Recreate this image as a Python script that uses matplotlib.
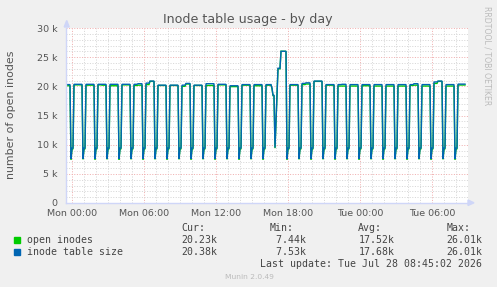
import numpy as np
import matplotlib.pyplot as plt
from matplotlib.patches import Rectangle, Polygon

W, H = 497, 287

# time axis: hours relative to Mon 00:00, one sample every 5 minutes
t_start, t_end = -0.5, 32.75          # Sun 23:30 .. Tue 08:45

# hourly plateau levels (k) for hours Sun 23 .. Tue 08 (h = -1 .. 32)
# (first part of the hour, second part of the hour)
size_early = [20.30, 20.35, 20.35, 20.35, 20.35, 20.35, 20.35, 20.55, 20.20, 20.20,
              20.20, 20.20, 20.45, 20.35, 20.10, 20.30, 20.30, 20.30, 26.01, 20.30,
              20.50, 20.90, 20.30, 20.30, 20.30, 20.30, 20.30, 20.30, 20.30, 20.30,
              20.30, 20.75, 20.30, 20.38]
size_late = [20.30, 20.35, 20.35, 20.35, 20.35, 20.35, 20.45, 20.90, 20.20, 20.20,
             20.50, 20.20, 20.45, 20.35, 20.10, 20.30, 20.30, 20.30, 26.01, 20.30,
             20.60, 20.90, 20.30, 20.35, 20.30, 20.30, 20.30, 20.30, 20.30, 20.45,
             20.30, 20.90, 20.30, 20.38]
open_early = [20.10, 20.25, 20.20, 20.25, 20.10, 20.25, 20.15, 20.30, 20.15, 20.15,
              20.00, 20.15, 20.15, 20.25, 19.95, 20.20, 20.10, 20.20, 26.01, 20.20,
              20.30, 20.85, 20.20, 20.05, 20.05, 20.10, 20.05, 20.05, 20.05, 20.15,
              20.05, 20.50, 20.05, 20.23]
open_late = [20.10, 20.25, 20.20, 20.20, 20.10, 20.25, 20.20, 20.85, 20.15, 20.15,
             20.40, 20.15, 20.15, 20.25, 19.95, 20.20, 20.10, 20.20, 26.01, 20.20,
             20.40, 20.85, 20.20, 20.05, 20.05, 20.10, 20.05, 20.05, 20.05, 20.20,
             20.05, 20.85, 20.05, 20.23]

# hourly dip just before each full hour (h = 0 .. 32): low point at hh:55, then level at :00/:05
size_dip_low = [7.55, 7.60, 7.55, 7.60, 7.55, 7.60, 7.55, 7.60, 7.55, 7.60, 7.55,
                7.60, 7.55, 7.60, 7.55, 7.60, 7.55, 7.60, 7.53, 7.60, 7.55, 7.60,
                7.55, 7.60, 7.55, 7.60, 7.55, 7.60, 7.55, 7.60, 7.55, 7.60, 7.55]
open_dip_low = [7.45, 7.50, 7.45, 7.50, 7.44, 7.50, 7.45, 7.50, 7.45, 7.50, 7.45,
                7.50, 7.45, 7.50, 7.45, 7.50, 7.45, 7.50, 7.45, 7.50, 7.45, 7.50,
                7.45, 7.50, 7.45, 7.50, 7.45, 7.50, 7.45, 7.50, 7.45, 7.50, 7.45]
size_dip_step = 9.40
open_dip_step = 9.25

# the spike around Mon 17:00 (time -> size, open)
event_times = ["16:40", "16:45", "16:50", "16:55", "17:00", "17:05", "17:10", "17:15", "17:20"]
event_size = [19.70, 18.50, 18.50, 9.50, 14.00, 18.60, 23.10, 23.10, 23.10]
event_open = [19.60, 18.40, 18.40, 9.40, 13.90, 18.50, 23.00, 23.00, 23.00]

x_labels = ["Mon 00:00", "Mon 06:00", "Mon 12:00", "Mon 18:00", "Tue 00:00", "Tue 06:00"]
x_label_pos = [0, 6, 12, 18, 24, 30]
y_ticks = [0, 5, 10, 15, 20, 25, 30]

legend_rows = [("open inodes", "#00CC00", ["20.23k", " 7.44k", "17.52k", "26.01k"]),
               ("inode table size", "#0066B3", ["20.38k", " 7.53k", "17.68k", "26.01k"])]


def build_series(early, late, dip_low, dip_step, ev_vals):
    events = {}
    for s, v in zip(event_times, ev_vals):
        hh, mm = s.split(":")
        events[(int(hh), int(mm))] = v
    times, vals = [], []
    n = int(round((t_end - t_start) * 12)) + 1
    for k in range(n):
        total = int(round(t_start * 60)) + 5 * k
        h, m = divmod(total, 60)
        if (h, m) in events:
            v = events[(h, m)]
        elif m == 55 and 0 <= h + 1 < len(dip_low):
            v = dip_low[h + 1]
        elif m in (0, 5) and h >= 0:
            v = dip_step
        else:
            v = early[h + 1] if m < 30 else late[h + 1]
        times.append(total / 60)
        vals.append(v)
    return np.array(times), np.array(vals)


t_open, v_open = build_series(open_early, open_late, open_dip_low, open_dip_step, event_open)
t_size, v_size = build_series(size_early, size_late, size_dip_low, size_dip_step, event_size)


def fx(x):
    return x / W


def fy(y):
    return 1 - y / H


fig = plt.figure(figsize=(W / 100, H / 100), dpi=100, facecolor="#F0F0F0")
ax = fig.add_axes([fx(66), fy(203), (468 - 66) / W, (203 - 28) / H])
ax.set_facecolor("white")

ax.set_xlim(-0.5, 33.0)
ax.set_ylim(0, 30)

ax.set_xticks(x_label_pos)
ax.set_xticklabels(x_labels)
ax.set_xticks(range(0, 33), minor=True)
ax.set_yticks(y_ticks)
ax.set_yticklabels([f"{v} k" if v else "0" for v in y_ticks])
ax.set_yticks(range(0, 31), minor=True)

ax.tick_params(which="both", length=0, labelsize=6.8, labelcolor="#555555")
ax.tick_params(axis="x", pad=4)
ax.tick_params(axis="y", pad=6)

ax.grid(which="minor", color="#D6D6D6", linewidth=0.72, linestyle=(0, (1, 1.6)))
ax.grid(which="major", color="#F0B0B0", linewidth=0.72, linestyle=(0, (1, 1.6)))
ax.set_axisbelow(True)

for side in ["top", "right"]:
    ax.spines[side].set_visible(False)
for side in ["left", "bottom"]:
    ax.spines[side].set_color("#CFD6F8")
    ax.spines[side].set_linewidth(1.0)

ax.plot(t_open, v_open, color="#00CC00", linewidth=1.0, solid_joinstyle="miter")
ax.plot(t_size, v_size, color="#0066B3", linewidth=1.0, solid_joinstyle="miter")

# axis arrows
fig.patches.append(Polygon([(fx(64.2), fy(27)), (fx(69.2), fy(27)), (fx(66.7), fy(20.5))],
                           closed=True, transform=fig.transFigure, color="#CFD6F8"))
fig.patches.append(Polygon([(fx(468), fy(200)), (fx(468), fy(205.5)), (fx(474), fy(202.8))],
                           closed=True, transform=fig.transFigure, color="#CFD6F8"))

fig.text(fx(248), fy(23), "Inode table usage - by day", ha="center", va="baseline",
         fontsize=9.1, color="#555555")
fig.text(fx(11), fy(115), "number of open inodes", rotation=90, ha="center", va="center",
         fontsize=7.9, color="#555555")
fig.text(fx(487), fy(56), "RRDTOOL / TOBI OETIKER", rotation=270, ha="center", va="center",
         fontsize=5.6, color="#BBBBBB")

mono = "DejaVu Sans Mono"
cols = [181.7, 270.0, 358.3, 446.7]
for x, head in zip(cols, ["Cur:", "Min:", "Avg:", "Max:"]):
    fig.text(fx(x), fy(231), head, family=mono, fontsize=7.1, color="#444444", va="baseline")
for i, (name, color, stats) in enumerate(legend_rows):
    base = 243 + 12.3 * i
    fig.patches.append(Rectangle((fx(14), fy(base - 0.5)), 5.5 / W, 5.5 / H,
                                 transform=fig.transFigure, color=color))
    fig.text(fx(26.7), fy(base), name, family=mono, fontsize=7.1, color="#444444", va="baseline")
    for x, s in zip(cols, stats):
        fig.text(fx(x), fy(base), s, family=mono, fontsize=7.1, color="#444444", va="baseline")

fig.text(fx(482.5), fy(267), "Last update: Tue Jul 28 08:45:02 2026", family=mono,
         fontsize=7.1, color="#444444", ha="right", va="baseline")
fig.text(fx(249), fy(279), "Munin 2.0.49", ha="center", va="baseline", fontsize=5.4,
         color="#BBBBBB")

fig.savefig("out.png", dpi=100, facecolor=fig.get_facecolor())
